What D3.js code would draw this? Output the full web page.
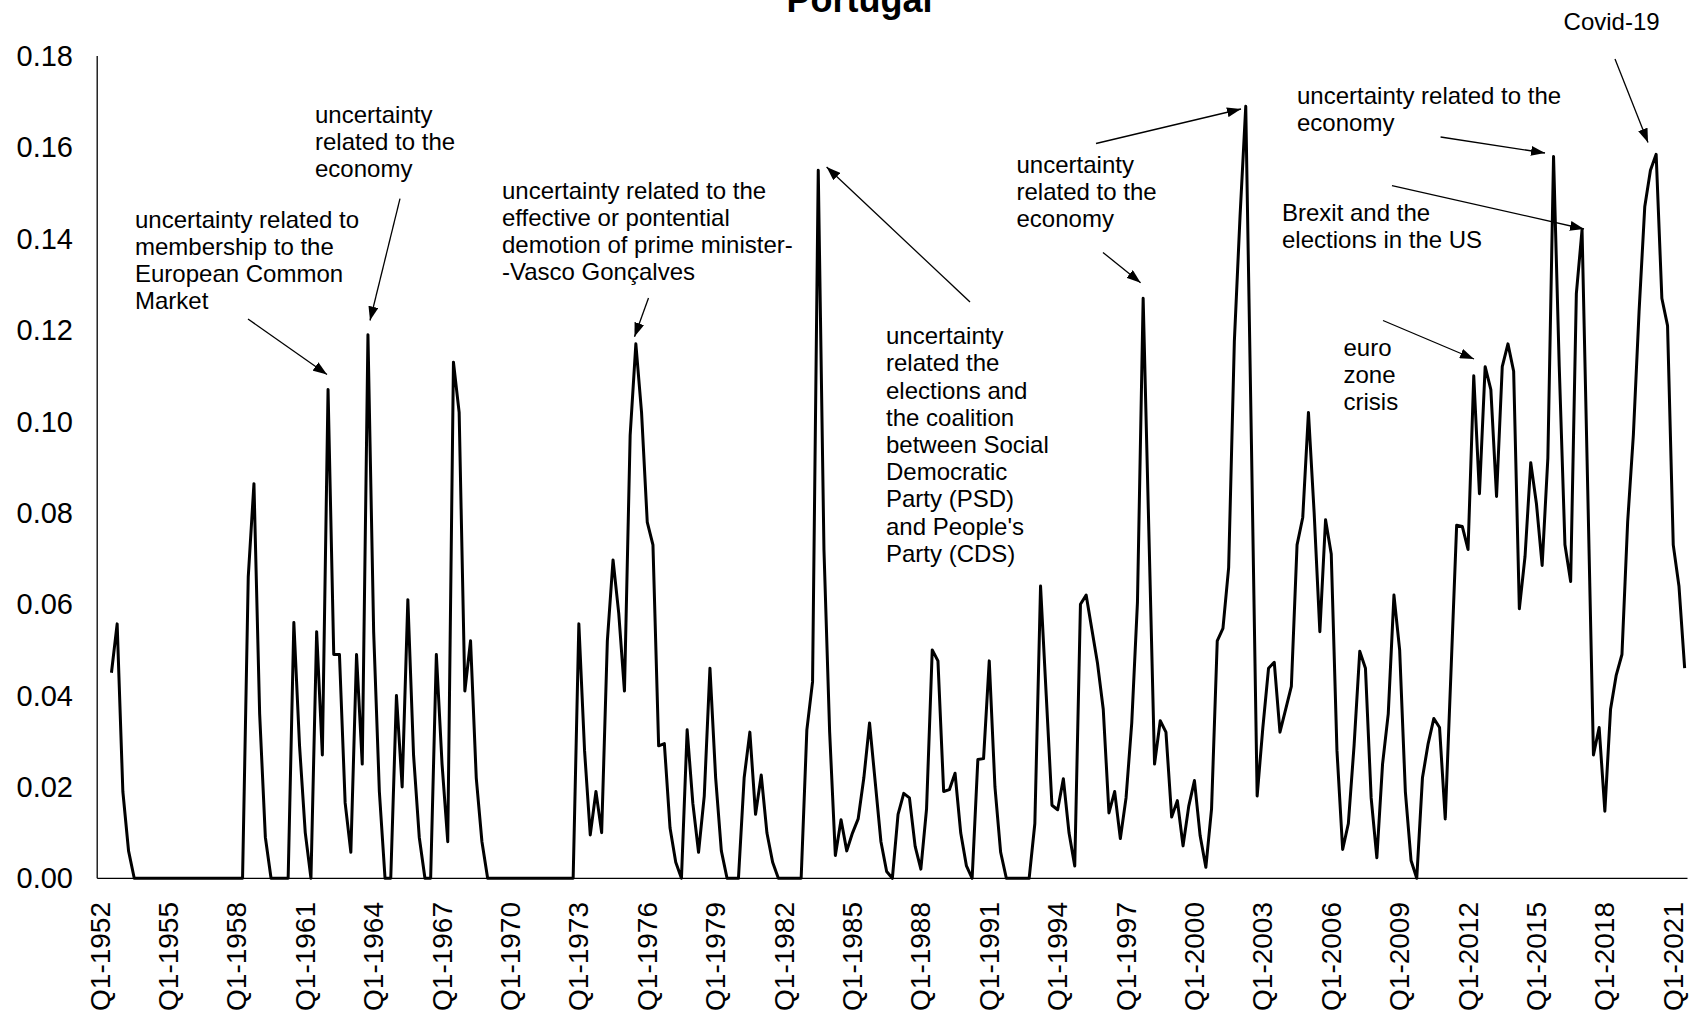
<!DOCTYPE html>
<html lang="en">
<head>
<meta charset="utf-8">
<title>Portugal</title>
<script src="https://cdn.jsdelivr.net/npm/d3@7"></script>
<style>
  body { margin: 0; background: #fff; }
  text { font-family: "Liberation Sans", Arial, sans-serif; fill: #000; }
</style>
</head>
<body>
<script>

// chart data
var firstYear = 1952;
var lastYear = 2021;
var lastQuarterOfLastYear = 3;   // series ends at Q3-2021

// uncertainty index, one value per quarter from Q1-1952 (first two quarters are empty)
var uncertainty = [
  null, null, 0.045, 0.0557, 0.019, 0.006, 0, 0, 0, 0, 0, 0,                       // 1952-54
  0, 0, 0, 0, 0, 0, 0, 0, 0, 0, 0, 0,                                                // 1955-57
  0, 0, 0.066, 0.0864, 0.036, 0.009, 0, 0, 0, 0, 0.056, 0.029,                       // 1958-60
  0.01, 0, 0.054, 0.027, 0.107, 0.049, 0.049, 0.0165, 0.0057, 0.049, 0.025, 0.119,   // 1961-63
  0.054, 0.019, 0, 0, 0.040, 0.020, 0.061, 0.027, 0.009, 0, 0, 0.049,                // 1964-66
  0.025, 0.008, 0.113, 0.102, 0.041, 0.052, 0.022, 0.008, 0, 0, 0, 0,               // 1967-69
  0, 0, 0, 0, 0, 0, 0, 0, 0, 0, 0, 0,                                                // 1970-72
  0.0557, 0.028, 0.0095, 0.019, 0.010, 0.052, 0.0697, 0.058, 0.041, 0.097, 0.117, 0.102, // 1973-75
  0.078, 0.073, 0.029, 0.0295, 0.011, 0.0035, 0, 0.0325, 0.0164, 0.0057, 0.018, 0.046,   // 1976-78
  0.022, 0.006, 0, 0, 0, 0.022, 0.032, 0.014, 0.0226, 0.0099, 0.0035, 0,             // 1979-81
  0, 0, 0, 0, 0.0325, 0.043, 0.155, 0.072, 0.032, 0.005, 0.0128, 0.006,              // 1982-84
  0.0099, 0.013, 0.022, 0.034, 0.021, 0.008, 0.0015, 0, 0.014, 0.0186, 0.0176, 0.007, // 1985-87
  0.002, 0.0152, 0.050, 0.0476, 0.019, 0.0194, 0.023, 0.0099, 0.0027, 0, 0.026, 0.0262, // 1988-90
  0.0476, 0.020, 0.0057, 0, 0, 0, 0, 0, 0.012, 0.064, 0.040, 0.016,                  // 1991-93
  0.015, 0.0218, 0.0099, 0.0027, 0.060, 0.062, 0.0545, 0.047, 0.037, 0.0143, 0.019, 0.0087, // 1994-96
  0.0176, 0.034, 0.0604, 0.127, 0.076, 0.025, 0.0345, 0.032, 0.0134, 0.017, 0.0071, 0.0158, // 1997-99
  0.0214, 0.0093, 0.0024, 0.0152, 0.052, 0.0547, 0.068, 0.1175, 0.145, 0.169, 0.095, 0.018, // 2000-02
  0.033, 0.046, 0.0473, 0.032, 0.037, 0.042, 0.073, 0.079, 0.102, 0.080, 0.054, 0.0785, // 2003-05
  0.071, 0.028, 0.0063, 0.012, 0.029, 0.0497, 0.046, 0.0176, 0.0045, 0.025, 0.036, 0.062, // 2006-08
  0.050, 0.019, 0.0039, 0, 0.022, 0.0295, 0.035, 0.033, 0.013, 0.045, 0.0773, 0.077, // 2009-11
  0.072, 0.110, 0.0842, 0.112, 0.107, 0.0836, 0.112, 0.117, 0.111, 0.059, 0.0705, 0.091, // 2012-14
  0.082, 0.0685, 0.092, 0.158, 0.112, 0.073, 0.065, 0.128, 0.142, 0.085, 0.027, 0.033, // 2015-17
  0.0147, 0.037, 0.0445, 0.049, 0.078, 0.097, 0.124, 0.147, 0.155, 0.1585, 0.127, 0.121, // 2018-20
  0.073, 0.064, 0.046                                                                // 2021 (to Q3)
];

var tickLabels = ["Q1-1952", "Q1-1955", "Q1-1958", "Q1-1961", "Q1-1964", "Q1-1967",
                  "Q1-1970", "Q1-1973", "Q1-1976", "Q1-1979", "Q1-1982", "Q1-1985",
                  "Q1-1988", "Q1-1991", "Q1-1994", "Q1-1997", "Q1-2000", "Q1-2003",
                  "Q1-2006", "Q1-2009", "Q1-2012", "Q1-2015", "Q1-2018", "Q1-2021"];

var yTicks = [0, 0.02, 0.04, 0.06, 0.08, 0.10, 0.12, 0.14, 0.16, 0.18];

var title = "Portugal";

// category names Q1-1952 ... Q3-2021
var categories = [];
for (var yr = firstYear; yr <= lastYear; yr++) {
  for (var q = 1; q <= 4; q++) {
    if (yr === lastYear && q > lastQuarterOfLastYear) break;
    categories.push("Q" + q + "-" + yr);
  }
}

var series = categories.map(function(c, i) {
  return { cat: c, value: uncertainty[i] };
});

//Width and height
var w = 1692;
var h = 1019;
var plotLeft = 97.2;
var plotRight = 1687.5;
var plotTop = 56.1;
var plotBottom = 878.3;

var xScale = d3.scaleBand()
  .domain(categories)
  .range([plotLeft, plotRight]);

var xMid = function(c) { return xScale(c) + xScale.bandwidth() / 2; };

var yScale = d3.scaleLinear()
  .domain([0, 0.18])
  .range([plotBottom, plotTop]);

var svg = d3.select("body")
  .append("svg")
  .attr("width", w)
  .attr("height", h);

svg.append("rect").attr("width", w).attr("height", h).attr("fill", "#fff");

// arrow head
svg.append("defs").append("marker")
  .attr("id", "arrow")
  .attr("viewBox", "0 0 14 10")
  .attr("refX", 14)
  .attr("refY", 5)
  .attr("markerWidth", 14)
  .attr("markerHeight", 10)
  .attr("markerUnits", "userSpaceOnUse")
  .attr("orient", "auto")
  .append("path")
  .attr("d", "M0,0 L14,5 L0,10 Z")
  .attr("fill", "#000");

// title (its top is cut by the page edge in the original too)
svg.append("text")
  .attr("x", 859.5)
  .attr("y", 12)
  .attr("text-anchor", "middle")
  .attr("font-size", "36px")
  .attr("font-weight", "bold")
  .text(title);

// y axis labels
svg.selectAll(".ylab")
  .data(yTicks)
  .enter()
  .append("text")
  .attr("class", "ylab")
  .attr("x", 73)
  .attr("y", function(d) { return yScale(d); })
  .attr("text-anchor", "end")
  .attr("dominant-baseline", "central")
  .attr("font-size", "29px")
  .text(function(d) { return d3.format(".2f")(d); });

// x axis labels, rotated
svg.selectAll(".xlab")
  .data(tickLabels)
  .enter()
  .append("text")
  .attr("class", "xlab")
  .attr("transform", function(d) {
    return "translate(" + xMid(d) + ",902) rotate(-90)";
  })
  .attr("text-anchor", "end")
  .attr("dominant-baseline", "central")
  .attr("font-size", "28px")
  .text(function(d) { return d; });

// axis lines
svg.append("line")
  .attr("x1", plotLeft).attr("x2", plotLeft)
  .attr("y1", plotTop).attr("y2", plotBottom)
  .attr("stroke", "#000").attr("stroke-width", 1.3);

svg.append("line")
  .attr("x1", plotLeft).attr("x2", plotRight)
  .attr("y1", plotBottom).attr("y2", plotBottom)
  .attr("stroke", "#000").attr("stroke-width", 1.3);

// the series
var line = d3.line()
  .defined(function(d) { return d.value !== null; })
  .x(function(d) { return xMid(d.cat); })
  .y(function(d) { return yScale(d.value); });

svg.append("path")
  .datum(series)
  .attr("d", line)
  .attr("fill", "none")
  .attr("stroke", "#000")
  .attr("stroke-width", 3)
  .attr("stroke-linejoin", "round");

// annotations
var notes = [
  { x: 135, y: 219, lines: ["uncertainty related to", "membership to the", "European Common", "Market"] },
  { x: 315, y: 114, lines: ["uncertainty", "related to the", "economy"] },
  { x: 502, y: 190, lines: ["uncertainty related to the", "effective or pontential", "demotion of prime minister-", "-Vasco Gonçalves"] },
  { x: 886, y: 335.6, lines: ["uncertainty", "related the", "elections and", "the coalition", "between Social", "Democratic", "Party (PSD)", "and People's", "Party (CDS)"] },
  { x: 1016.5, y: 164, lines: ["uncertainty", "related to the", "economy"] },
  { x: 1297, y: 95, lines: ["uncertainty related to the", "economy"] },
  { x: 1282, y: 212.6, lines: ["Brexit and the", "elections in the US"] },
  { x: 1343.5, y: 347.5, lines: ["euro", "zone", "crisis"] },
  { x: 1563.6, y: 21.6, lines: ["Covid-19"] }
];

var lineGap = 27.2;

notes.forEach(function(n) {
  svg.append("g")
    .selectAll("text")
    .data(n.lines)
    .enter()
    .append("text")
    .attr("x", n.x)
    .attr("y", function(d, i) { return n.y + i * lineGap; })
    .attr("dominant-baseline", "central")
    .attr("font-size", "24px")
    .text(function(d) { return d; });
});

var arrows = [
  [248, 319, 327, 374.5],
  [400, 198.6, 370, 320.5],
  [648.5, 298, 634.5, 336.7],
  [970, 302, 826.6, 167],
  [1103, 252.5, 1140.6, 282.7],
  [1096, 143.5, 1241, 109],
  [1440.6, 137, 1545, 153],
  [1392, 185.6, 1584, 229],
  [1383, 320.5, 1474, 359],
  [1615, 59, 1648, 142.5]
];

svg.selectAll(".arrow")
  .data(arrows)
  .enter()
  .append("line")
  .attr("class", "arrow")
  .attr("x1", function(d) { return d[0]; })
  .attr("y1", function(d) { return d[1]; })
  .attr("x2", function(d) { return d[2]; })
  .attr("y2", function(d) { return d[3]; })
  .attr("stroke", "#000")
  .attr("stroke-width", 1.3)
  .attr("marker-end", "url(#arrow)");

</script>
</body>
</html>
